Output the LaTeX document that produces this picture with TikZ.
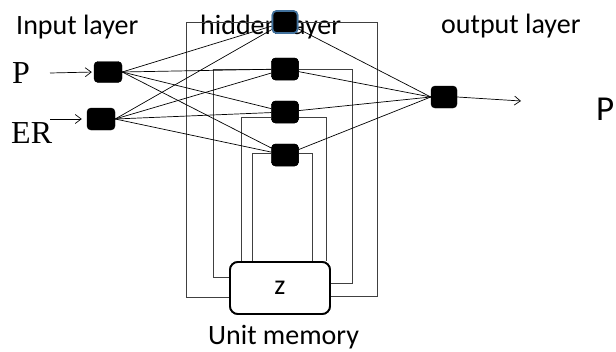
\documentclass[tikz,border=0pt]{standalone}
\usepackage{fontspec}
\setmainfont{Carlito}
\newfontfamily\serifP{Liberation Serif}
\usetikzlibrary{arrows.meta,calc}
\begin{document}
\begin{tikzpicture}[x=1pt,y=-1pt,
  neuron/.style={draw=black,fill=black,rounded corners=4pt,minimum width=27pt,minimum height=22pt,inner sep=0pt},
  topneuron/.style={draw={rgb,255:red,65;green,113;blue,156},line width=1.6pt,fill=black,rounded corners=4pt,minimum width=25pt,minimum height=22pt,inner sep=0pt},
  wline/.style={draw=black,line width=0.7pt},
  rline/.style={draw=black!75,line width=0.8pt},
  lbl/.style={font=\fontsize{28}{33}\selectfont,inner sep=0pt},
  slbl/.style={font=\serifP\fontsize{32}{37}\selectfont,inner sep=0pt},
  arr/.style={draw=black,line width=0.7pt,-{Straight Barb[length=6pt,width=9pt]}},
  membox/.style={draw=black,line width=1.8pt,rounded corners=8pt,minimum width=100pt,minimum height=52pt,fill=white,font=\fontsize{28}{33}\selectfont}
]
\useasboundingbox (0,0) rectangle (616,351);
% texts
\node[lbl,anchor=base west] (tin) at (16,34) {Input layer};
\node[lbl,anchor=base west] (thid) at (200,34) {hidden layer};
\node[lbl,anchor=base west] (tout) at (441,33) {output layer};
\node[lbl,anchor=base west] (tmem) at (208,344) {Unit memory};
\node[lbl,anchor=base west,font=\fontsize{35}{40}\selectfont] (pout) at (596,120) {P};
\node[slbl,anchor=base west] (pin) at (12,83) {P};
\node[slbl,anchor=base west] (erin) at (11,143) {ER};
% nodes
\node[neuron,minimum width=28pt,minimum height=21pt] (I1) at (108,72) {};
\node[neuron,minimum width=28pt,minimum height=22pt] (I2) at (101,119) {};
\node[topneuron] (H1) at (285,22) {};
\node[neuron] (H2) at (285,69) {};
\node[neuron] (H3) at (285,112) {};
\node[neuron] (H4) at (285,155) {};
\node[neuron,minimum width=26pt] (O) at (444,97) {};
\node[membox] (B) at (280,288) {z};
\coordinate (pa) at (50,73);
\coordinate (ea) at (50,119);
\coordinate (oa) at (521,101);
% recurrent lines
\draw[rline] (H1.west) -| (186,297) -- (B.west |- 0,297);
\draw[rline] (H1.east) -| (377,296) -- (B.east |- 0,296);
\draw[rline] (H2.west) -| (213,277) -- (B.west |- 0,277);
\draw[rline] (H2.east) -| (352,283) -- (B.east |- 0,283);
\draw[rline] (H3.west |- 0,117) -| (B.north -| 241,0);
\draw[rline] (H3.east |- 0,117) -| (B.north -| 326,0);
\draw[rline] (H4.west |- 0,153) -| (B.north -| 252,0);
\draw[rline] (H4.east |- 0,153) -| (B.north -| 312,0);
% weights
\foreach \h in {H1,H2,H3,H4}{
  \draw[wline] (I1.east) -- (\h);
  \draw[wline] (I2.east) -- (\h);
  \draw[wline] (\h) -- (O.west);
}
% redraw nodes on top
\node[topneuron] at (H1) {};
\node[neuron] at (H2) {};
\node[neuron] at (H3) {};
\node[neuron] at (H4) {};
\node[membox] at (B) {z};
% arrows
\draw[arr,shorten >=2pt] (pa) -- (I1.west);
\draw[arr,shorten >=5pt] (ea) -- (I2.west);
\draw[arr] (O.east) -- (oa);
\end{tikzpicture}
\end{document}
